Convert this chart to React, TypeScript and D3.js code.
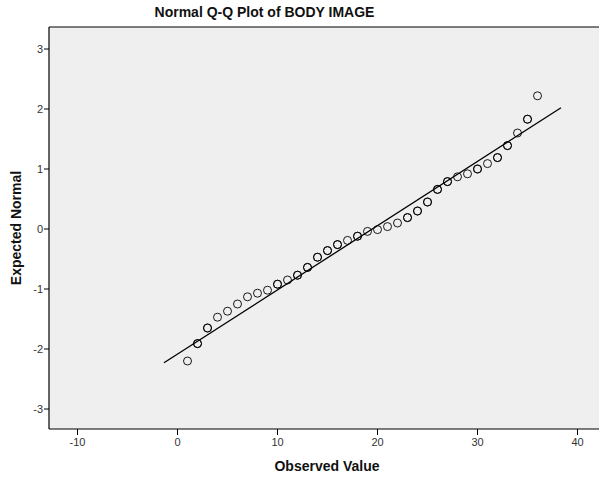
import * as d3 from "d3";

// observed values (score) and their expected normal quantiles
const observed = [1, 2, 3, 4, 5, 6, 7, 8, 9, 10, 11, 12, 13, 14, 15, 16, 17, 18, 19, 20, 21, 22, 23, 24, 25, 26, 27, 28, 29, 30, 31, 32, 33, 34, 35, 36];
const expected = [-2.2, -1.91, -1.65, -1.47, -1.37, -1.25, -1.13, -1.07, -1.02, -0.92, -0.85, -0.77, -0.64, -0.47, -0.36, -0.26, -0.19, -0.12, -0.04, -0.01, 0.04, 0.1, 0.19, 0.3, 0.45, 0.66, 0.79, 0.87, 0.92, 1.0, 1.09, 1.19, 1.39, 1.6, 1.83, 2.22];
// how many cases share each value (overlapping circles look darker)
const counts = [1, 2, 2, 1, 1, 1, 1, 1, 1, 2, 1, 2, 2, 2, 2, 2, 1, 2, 1, 1, 1, 1, 2, 2, 2, 2, 2, 1, 1, 2, 1, 2, 2, 1, 2, 1];
// reference line end points
const lineX = [-1.35, 38.35];
const lineY = [-2.23, 2.02];
const xTicks = [-10, 0, 10, 20, 30, 40];
const yTicks = [-3, -2, -1, 0, 1, 2, 3];

const W = 599;
const H = 479;
const left = 49;
const top = 27;
const bottom = 429;
const font = "Arial, 'Liberation Sans', sans-serif";

export default function App() {
  const x = d3.scaleLinear().domain([0, 10]).range([177.5, 277.5]);
  const y = d3.scaleLinear().domain([0, 1]).range([229, 169]);

  const points = observed.flatMap((v, i) =>
    d3.range(counts[i]).map((k) => ({ v, e: expected[i], k }))
  );

  const line = d3
    .line<number>()
    .x((d) => x(d))
    .y((_, i) => y(lineY[i]));

  return (
    <svg
      width={W}
      height={H}
      style={{ position: "absolute", left: 0, top: 0, background: "#fff" }}
    >
      <text
        x={264.5}
        y={17}
        textAnchor="middle"
        fontFamily={font}
        fontWeight="bold"
        fontSize={14}
        fill="#111"
      >
        Normal Q-Q Plot of BODY IMAGE
      </text>

      <rect x={left} y={top} width={W - left + 5} height={bottom - top} fill="#efefef" />
      <line x1={left} x2={W} y1={top} y2={top} stroke="#000" strokeWidth={1.2} />
      <line x1={left} x2={W} y1={bottom} y2={bottom} stroke="#000" strokeWidth={1.2} />
      <line x1={left} x2={left} y1={top} y2={bottom} stroke="#000" strokeWidth={1.2} />

      {yTicks.map((t) => (
        <g key={"y" + t}>
          <line x1={left - 5} x2={left} y1={y(t)} y2={y(t)} stroke="#000" />
          <text
            x={left - 6}
            y={y(t)}
            dy="0.35em"
            textAnchor="end"
            fontFamily={font}
            fontSize={11}
            fill="#333"
          >
            {t}
          </text>
        </g>
      ))}

      {xTicks.map((t) => (
        <g key={"x" + t}>
          <line x1={x(t)} x2={x(t)} y1={bottom} y2={bottom + 6} stroke="#000" />
          <text
            x={x(t)}
            y={bottom + 17}
            textAnchor="middle"
            fontFamily={font}
            fontSize={11}
            fill="#333"
          >
            {t}
          </text>
        </g>
      ))}

      <path d={line(lineX) || ""} fill="none" stroke="#000" strokeWidth={1.3} />

      {points.map((p, i) => (
        <circle
          key={i}
          cx={x(p.v)}
          cy={y(p.e)}
          r={4}
          fill="none"
          stroke="#000"
          strokeWidth={0.9}
        />
      ))}

      <text
        x={327}
        y={471}
        textAnchor="middle"
        fontFamily={font}
        fontWeight="bold"
        fontSize={14}
        fill="#111"
      >
        Observed Value
      </text>
      <text
        transform={`translate(21, ${(top + bottom) / 2}) rotate(-90)`}
        textAnchor="middle"
        fontFamily={font}
        fontWeight="bold"
        fontSize={14}
        fill="#111"
      >
        Expected Normal
      </text>
    </svg>
  );
}
